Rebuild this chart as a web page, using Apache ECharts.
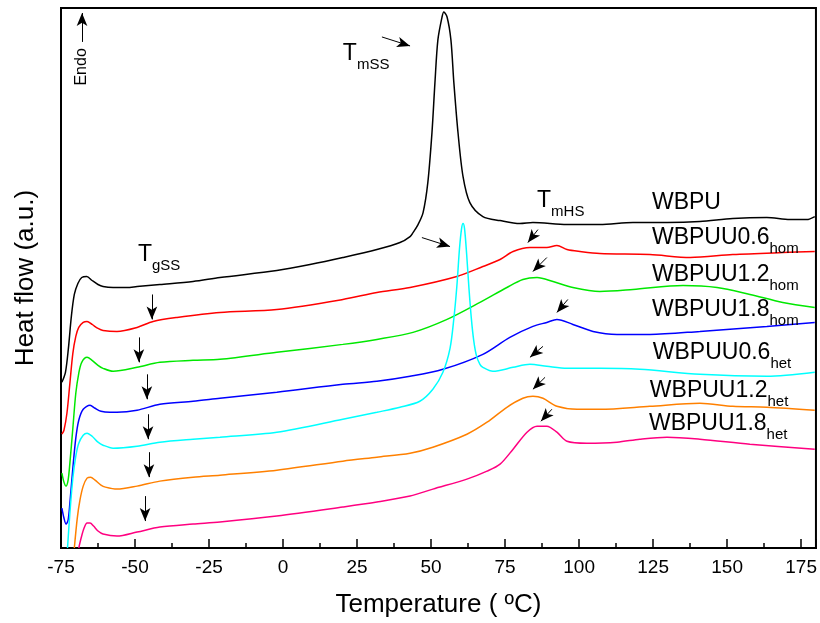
<!DOCTYPE html>
<html><head><meta charset="utf-8">
<script src="https://cdn.jsdelivr.net/npm/echarts@6/dist/echarts.min.js"></script>
<style>html,body{margin:0;padding:0;background:#fff}#c{width:820px;height:623px}</style>
</head><body><div id="c"></div>
<script>
// ---- data: [temperature (ºC), heat flow (a.u., offset curves)] ----
const wbpu = [[-74.7,166],[-73.5,176],[-72.5,200],[-71.5,232],[-70.5,254],[-69.3,265],[-68.0,271],[-66.3,272],[-64.5,268],[-62.5,264],[-60.8,262],[-57.4,261],[-52.7,261],[-49.3,262],[-41.6,264],[-30.4,267],[-21.3,271],[-2.1,278],[9.1,284],[20.2,291],[31.7,299],[39.5,306],[42.9,312],[43.9,316],[45.6,324],[47.3,336],[48.9,366],[50.3,416],[51.3,466],[52.3,509],[53.7,532],[54.3,537],[55.4,532],[56.7,509],[57.7,466],[59.1,416],[60.8,372],[63.1,346],[67.5,332],[73.3,328],[80.0,325],[84.4,326],[95.9,324],[107.0,324],[118.2,326],[129.7,326],[140.8,327],[151.9,330],[163.4,331],[171.2,329],[176.9,329],[179.6,332]];
const wbpuu06hom = [[-74.7,114],[-74.0,118],[-73.0,135],[-72.0,165],[-71.0,195],[-70.0,212],[-69.0,221],[-67.5,226],[-66.2,227],[-64.5,224],[-62.5,220],[-60.8,218],[-56.1,217],[-49.3,221],[-43.9,227],[-35.8,231],[-21.3,236],[-2.1,239],[20.2,249],[31.7,256],[42.9,261],[58.7,272],[67.5,282],[73.3,289],[77.7,297],[83.4,301],[89.1,301],[92.5,303],[95.9,299],[100.3,297],[107.0,295],[123.9,294],[137.5,291],[151.9,294],[168.8,296],[179.6,297]];
const wbpuu12hom = [[-74.7,75],[-74.0,66],[-73.3,62],[-72.6,68],[-72.0,85],[-71.0,120],[-70.0,155],[-69.0,175],[-68.0,186],[-66.2,191],[-64.5,188],[-62.5,183],[-60.8,180],[-57.4,177],[-49.3,181],[-41.6,186],[-30.4,188],[-21.3,189],[-2.1,196],[20.2,204],[31.7,209],[43.9,216],[55.4,229],[66.5,246],[75.6,261],[81.0,269],[85.8,271],[91.2,267],[97.9,261],[107.0,257],[118.2,259],[135.1,263],[146.6,261],[157.7,254],[168.8,246],[179.6,241]];
const wbpuu18hom = [[-74.7,40],[-74.0,30],[-73.3,24],[-72.6,28],[-72.0,45],[-71.0,80],[-70.0,110],[-69.0,128],[-67.5,139],[-65.2,143],[-63.5,140],[-61.5,137],[-58.5,136],[-56.1,136],[-49.3,138],[-41.6,144],[-30.4,147],[-21.3,150],[-2.1,156],[20.2,164],[31.7,167],[42.9,172],[54.0,179],[67.5,194],[76.6,211],[84.4,222],[89.1,226],[92.5,229],[97.9,224],[104.7,217],[112.8,214],[123.9,214],[140.8,217],[163.4,222],[179.6,226]];
const wbpuu06het = [[-72.8,0],[-72.0,35],[-71.0,70],[-70.0,92],[-69.0,105],[-67.5,113],[-66.2,115],[-64.5,112],[-62.5,106],[-60.8,103],[-57.4,100],[-49.3,102],[-41.6,106],[-30.4,109],[-21.3,111],[-2.1,116],[20.2,129],[31.7,136],[39.5,141],[46.2,147],[50.6,159],[54.0,176],[56.4,200],[57.7,230],[58.7,262],[59.6,300],[60.3,320],[60.8,325],[61.3,320],[62.0,295],[62.8,260],[63.6,230],[64.4,208],[65.3,193],[66.5,184],[67.5,181],[70.9,177],[77.7,181],[83.4,184],[89.1,182],[95.9,180],[107.0,180],[120.5,179],[140.8,174],[163.4,172],[179.6,176]];
const wbpuu12het = [[-70.5,0],[-69.5,30],[-68.6,48],[-67.5,62],[-66.2,70],[-65.0,71],[-63.5,68],[-61.5,63],[-60.0,61],[-56.1,59],[-49.3,62],[-41.6,67],[-30.4,71],[-21.3,73],[-2.1,78],[20.2,87],[31.7,91],[42.9,95],[50.6,101],[62.1,114],[68.9,126],[75.6,141],[81.0,150],[84.4,152],[87.8,150],[92.5,142],[99.3,139],[107.0,139],[123.9,142],[140.8,145],[151.9,142],[163.4,141],[179.6,138]];
const wbpuu18het = [[-69.0,0],[-68.2,10],[-67.2,20],[-66.2,25],[-65.2,25],[-64.0,22],[-62.5,17],[-60.8,14],[-56.1,12],[-49.3,16],[-41.6,21],[-30.4,24],[-21.3,26],[-2.1,32],[20.2,41],[31.7,46],[42.9,52],[50.6,59],[62.1,69],[68.9,77],[73.3,84],[77.7,99],[82.4,116],[85.8,122],[89.1,122],[92.5,116],[95.9,107],[102.6,105],[112.8,106],[120.5,109],[129.7,111],[140.8,109],[157.7,104],[179.6,99]];

const seriesNames = ['WBPU','WBPUU0.6hom','WBPUU1.2hom','WBPUU1.8hom','WBPUU0.6het','WBPUU1.2het','WBPUU1.8het'];
const seriesData = [wbpu, wbpuu06hom, wbpuu12hom, wbpuu18hom, wbpuu06het, wbpuu12het, wbpuu18het];
const seriesColors = ['#000000','#ff0000','#00e800','#0000ff','#00ffff','#ff8000','#ff0080'];

// curve labels: [main, subscript, anchor temperature, anchor heat flow]
const curveLabels = [['WBPU','',124.6,347],['WBPUU0.6','hom',124.6,312.5],['WBPUU1.2','hom',124.6,275.5],['WBPUU1.8','hom',124.6,240],['WBPUU0.6','het',124.9,197.5],['WBPUU1.2','het',123.9,159],['WBPUU1.8','het',123.6,126]];
// transition labels: [main, subscript, temperature, heat flow]
const transLabels = [['T','mSS',20.2,497],['T','mHS',85.8,349.5],['T','gSS',-49.0,295]];
// annotation arrows: [x1, y1, x2, y2] (head at second point)
const tgArrows = [[-44.3,254,-44.3,229],[-48.7,211,-48.7,186],[-46.0,174,-46.0,149],[-45.6,134,-45.6,109],[-45.3,96,-45.3,71],[-46.6,52,-46.6,27]];
const thsArrows = [[86.1,319,82.7,306],[89.1,291,84.4,277],[96.2,249,92.5,236],[87.8,202,83.4,191],[88.5,171,84.4,159],[90.8,139,87.1,127]];
const tmArrows = [[33.4,512,42.9,503],[46.9,311,56.4,302]];
const endoArrow = [[-67.9,507,-67.9,536]];

const FONT = 'Arial, "Liberation Sans", Helvetica, sans-serif';
const chart = echarts.init(document.getElementById('c'), null, {renderer:'canvas'});

function arrowLines(list){
  return list.map(a => [{coord:[a[0],a[1]]},{coord:[a[2],a[3]]}]);
}

const series = seriesData.map((d,i) => ({
  name: seriesNames[i], type:'line', data:d, showSymbol:false, symbol:'none',
  smooth:0.3, lineStyle:{color:seriesColors[i], width:1.5}, itemStyle:{color:seriesColors[i]},
  animation:false, silent:true, z:2
}));
series.push({
  name:'arrows', type:'line', data:[], silent:true, animation:false, z:5,
  markLine:{
    silent:true, animation:false, symbol:['none','arrow'], symbolSize:[8,13],
    label:{show:false}, lineStyle:{color:'#000', width:1, type:'solid'},
    emphasis:{disabled:true},
    data: arrowLines(tgArrows.concat(thsArrows, tmArrows, endoArrow))
  }
});

chart.setOption({
  backgroundColor:'#fff',
  animation:false,
  textStyle:{fontFamily:FONT},
  grid:{left:61, right:3, top:8, bottom:74, show:true, borderColor:'#000', borderWidth:2},
  xAxis:{
    type:'value', min:-75, max:180, interval:25,
    axisLine:{show:true, onZero:false, lineStyle:{color:'#000', width:2}},
    axisTick:{show:true, inside:true, length:9, lineStyle:{color:'#000', width:1.5}},
    minorTick:{show:true, splitNumber:2, length:5, lineStyle:{color:'#000', width:1.5}},
    splitLine:{show:false}, minorSplitLine:{show:false},
    axisLabel:{color:'#000', fontSize:19, margin:10, fontFamily:FONT, showMaxLabel:false},
    name:'Temperature ( ºC)', nameLocation:'middle', nameGap:44,
    nameTextStyle:{color:'#000', fontSize:26, fontFamily:FONT}
  },
  yAxis:{
    type:'value', min:0, max:541,
    axisLine:{show:true, onZero:false, lineStyle:{color:'#000', width:2}},
    axisTick:{show:false}, axisLabel:{show:false}, splitLine:{show:false},
    name:'Heat flow (a.u.)', nameLocation:'middle', nameGap:22,
    nameTextStyle:{color:'#000', fontSize:26, fontFamily:FONT}
  },
  series: series
});

function px(p){ return chart.convertToPixel({gridIndex:0}, p); }
const rich = {
  m:{fontSize:23, fontFamily:FONT, fill:'#000', color:'#000', lineHeight:23, padding:[0,0,7,0], verticalAlign:'bottom'},
  s:{fontSize:15, fontFamily:FONT, fill:'#000', color:'#000', lineHeight:15, verticalAlign:'bottom'}
};
const graphics = [];
curveLabels.concat(transLabels).forEach(l => {
  const p = px([l[2], l[3]]);
  const txt = '{m|' + l[0] + '}' + (l[1] ? '{s|' + l[1] + '}' : '');
  graphics.push({
    type:'text', x:p[0], y:p[1]-3, silent:true, z:10,
    style:{text:txt, rich:rich, fill:'#000', align:'left', verticalAlign:'top', textAlign:'left', textVerticalAlign:'top'}
  });
});
// "Endo" label beside the vertical arrow
const ep = px([-67.9, 482]);
graphics.push({
  type:'text', x:ep[0], y:ep[1], rotation:Math.PI/2, silent:true, z:10,
  style:{text:'Endo', fill:'#000', font:'16px ' + FONT, align:'center', verticalAlign:'middle', textAlign:'center', textVerticalAlign:'middle'}
});
chart.setOption({graphic:graphics});
</script></body></html>
